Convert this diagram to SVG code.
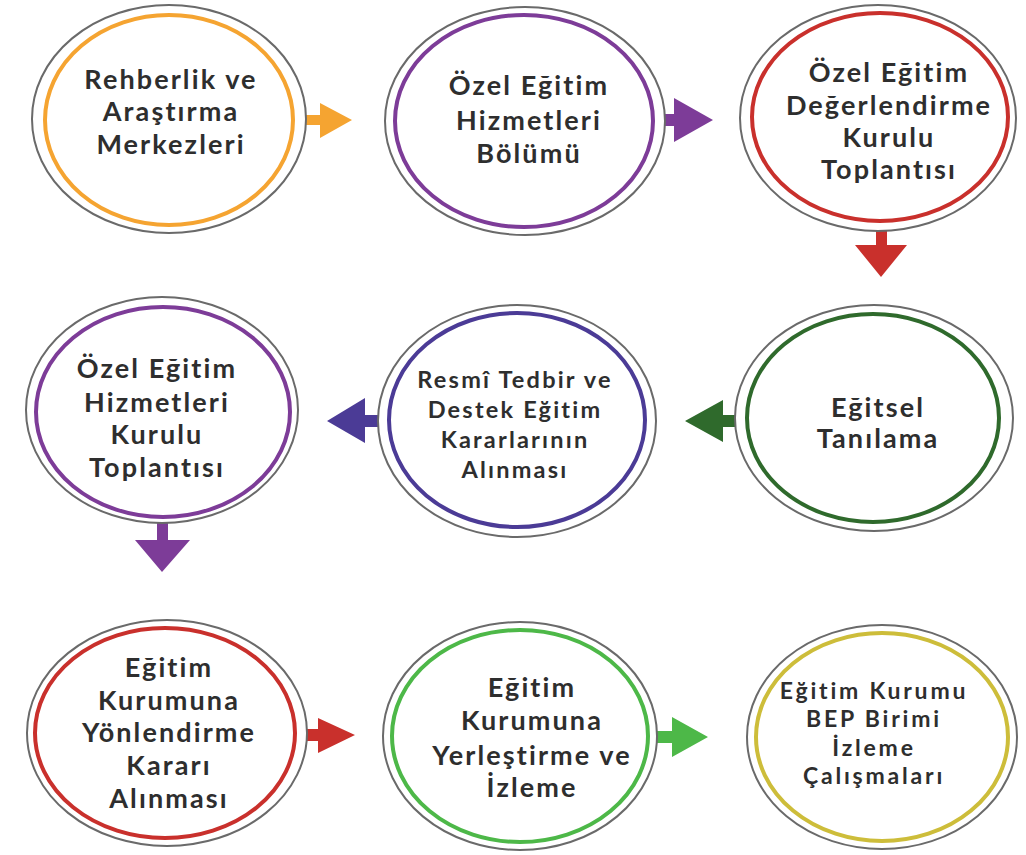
<svg xmlns="http://www.w3.org/2000/svg" width="1026" height="855" viewBox="0 0 1026 855">
<style>
.outer{fill:#fff;stroke:#6a6a6a;stroke-width:2}
.inner{fill:#fff;stroke-width:4}
text{font-family:Lato,"Open Sans","Liberation Sans",sans-serif;font-weight:700;fill:#2e2e2e;text-anchor:middle}
.t{font-size:27px;letter-spacing:2.1px}
.s{font-size:23.5px;letter-spacing:2.2px}
.u{font-size:23px;letter-spacing:2.8px}
</style>
<rect width="1026" height="855" fill="#fff"/>
<g id="connectors">
<path fill="#f5a431" d="M292,115 H320 V103 L352,120 L320,138 V125 H292 Z"/>
<path fill="#7d3c98" d="M652,114 H674 V98 L713,120 L674,142 V126 H652 Z"/>
<path fill="#c9302c" d="M876,220 V245 H855 L881,277 L907,245 H887 V220 Z"/>
<path fill="#2f6a2c" d="M748,415 H723 V400 L685,421 L723,442 V427 H748 Z"/>
<path fill="#4b3b96" d="M390,415 H365 V398 L327,421 L365,443 V427 H390 Z"/>
<path fill="#7d3c98" d="M157,516 V540 H135 L162,572 L190,540 H168 V516 Z"/>
<path fill="#c9302c" d="M294,729 H318 V718 L355,735 L318,753 V741 H294 Z"/>
<path fill="#4db848" d="M647,731 H672 V717 L708,737 L672,757 V743 H647 Z"/>
</g>
<g id="node1">
<ellipse class="outer" cx="169" cy="119" rx="137" ry="114"/>
<ellipse class="inner" cx="169" cy="120" rx="124" ry="105" stroke="#f5a431"/>
<text class="t" x="171" y="89">Rehberlik ve</text>
<text class="t" x="171" y="121">Araştırma</text>
<text class="t" x="171" y="154">Merkezleri</text>
</g>
<g id="node2">
<ellipse class="outer" cx="525" cy="121" rx="140" ry="114"/>
<ellipse class="inner" cx="524" cy="121" rx="129" ry="106" stroke="#7d3c98"/>
<text class="t" x="529" y="95">Özel Eğitim</text>
<text class="t" x="529" y="130">Hizmetleri</text>
<text class="t" x="529" y="163">Bölümü</text>
</g>
<g id="node3">
<ellipse class="outer" cx="878" cy="118" rx="138" ry="113"/>
<ellipse class="inner" cx="880" cy="117" rx="128" ry="104" stroke="#c9302c"/>
<text class="t" x="889" y="82">Özel Eğitim</text>
<text class="t" x="889" y="115">Değerlendirme</text>
<text class="t" x="889" y="147">Kurulu</text>
<text class="t" x="889" y="179">Toplantısı</text>
</g>
<g id="node4">
<ellipse class="outer" cx="874" cy="418" rx="139" ry="113"/>
<ellipse class="inner" cx="873" cy="418" rx="126" ry="104" stroke="#2f6a2c"/>
<text class="t" x="878" y="417">Eğitsel</text>
<text class="t" x="878" y="448">Tanılama</text>
</g>
<g id="node5">
<ellipse class="outer" cx="517" cy="421" rx="139" ry="116"/>
<ellipse class="inner" cx="517" cy="420" rx="128" ry="107" stroke="#4b3b96"/>
<text class="s" x="515" y="388">Resmî Tedbir ve</text>
<text class="s" x="515" y="418">Destek Eğitim</text>
<text class="s" x="515" y="448">Kararlarının</text>
<text class="s" x="515" y="478">Alınması</text>
</g>
<g id="node6">
<ellipse class="outer" cx="162" cy="410" rx="136" ry="113"/>
<ellipse class="inner" cx="163" cy="412" rx="127" ry="105" stroke="#7d3c98"/>
<text class="t" x="157" y="378">Özel Eğitim</text>
<text class="t" x="157" y="412">Hizmetleri</text>
<text class="t" x="157" y="444">Kurulu</text>
<text class="t" x="157" y="477">Toplantısı</text>
</g>
<g id="node7">
<ellipse class="outer" cx="167" cy="733" rx="140" ry="113"/>
<ellipse class="inner" cx="165" cy="733" rx="130" ry="105" stroke="#c9302c"/>
<text class="t" x="169" y="677">Eğitim</text>
<text class="t" x="169" y="710">Kurumuna</text>
<text class="t" x="169" y="742">Yönlendirme</text>
<text class="t" x="169" y="775">Kararı</text>
<text class="t" x="169" y="808">Alınması</text>
</g>
<g id="node8">
<ellipse class="outer" cx="520" cy="736" rx="137" ry="114"/>
<ellipse class="inner" cx="520" cy="736" rx="128" ry="106" stroke="#4db848"/>
<text class="t" x="532" y="697">Eğitim</text>
<text class="t" x="532" y="730">Kurumuna</text>
<text class="t" x="532" y="765">Yerleştirme ve</text>
<text class="t" x="532" y="797">İzleme</text>
</g>
<g id="node9">
<ellipse class="outer" cx="882" cy="737" rx="135" ry="112"/>
<ellipse class="inner" cx="882" cy="737" rx="126" ry="104" stroke="#cdbd3a"/>
<text class="u" x="874" y="699">Eğitim Kurumu</text>
<text class="u" x="874" y="727">BEP Birimi</text>
<text class="u" x="874" y="756">İzleme</text>
<text class="u" x="874" y="784">Çalışmaları</text>
</g>
</svg>
